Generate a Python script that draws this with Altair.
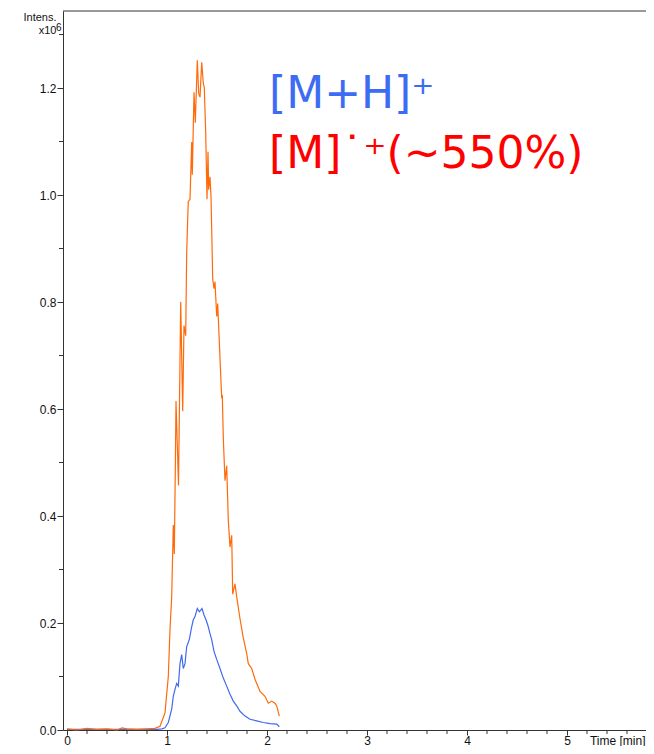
import altair as alt
import pandas as pd

# ---- data ----
orange_t = [0.00, 0.10, 0.20, 0.30, 0.40, 0.50, 0.55, 0.60, 0.70, 0.80, 0.88,
            0.93, 0.98, 1.013, 1.03, 1.047, 1.063, 1.073, 1.083, 1.09, 1.115,
            1.137, 1.157, 1.17, 1.187, 1.197, 1.207, 1.213, 1.23, 1.247, 1.253,
            1.27, 1.283, 1.303, 1.317, 1.33, 1.347, 1.363, 1.373, 1.387, 1.40,
            1.41, 1.417, 1.43, 1.44, 1.447, 1.457, 1.47, 1.48, 1.497, 1.507,
            1.53, 1.547, 1.553, 1.563, 1.58, 1.597, 1.613, 1.63, 1.647, 1.657,
            1.68, 1.697, 1.73, 1.76, 1.797, 1.813, 1.847, 1.88, 1.93, 1.98,
            2.013, 2.047, 2.08, 2.097, 2.123]
orange_v = [0.002, 0.000, 0.003, 0.001, 0.002, 0.000, 0.004, 0.002, 0.001, 0.002, 0.003,
            0.007, 0.032, 0.100, 0.188, 0.249, 0.383, 0.329, 0.485, 0.615, 0.457,
            0.800, 0.596, 0.756, 0.737, 0.893, 0.955, 0.988, 0.992, 1.099, 1.038,
            1.192, 1.135, 1.252, 1.190, 1.183, 1.248, 1.209, 1.201, 1.116, 0.992,
            1.081, 1.010, 1.034, 0.997, 0.936, 0.843, 0.825, 0.838, 0.773, 0.797,
            0.695, 0.620, 0.626, 0.546, 0.466, 0.494, 0.392, 0.342, 0.364, 0.254,
            0.273, 0.249, 0.208, 0.175, 0.143, 0.124, 0.115, 0.095, 0.072, 0.063,
            0.050, 0.054, 0.050, 0.045, 0.026]

blue_t = [0.00, 0.50, 0.90, 0.95, 0.98, 1.013, 1.047, 1.063, 1.08, 1.097, 1.113,
          1.13, 1.147, 1.163, 1.18, 1.197, 1.223, 1.247, 1.263, 1.28, 1.303,
          1.323, 1.35, 1.37, 1.39, 1.413, 1.43, 1.447, 1.47, 1.497, 1.53, 1.563,
          1.597, 1.63, 1.663, 1.697, 1.73, 1.78, 1.83, 1.897, 1.963, 2.03,
          2.097, 2.123]
blue_v = [0.001, 0.001, 0.001, 0.002, 0.004, 0.014, 0.039, 0.063, 0.076, 0.087, 0.082,
          0.124, 0.141, 0.115, 0.124, 0.156, 0.169, 0.193, 0.206, 0.212, 0.227,
          0.221, 0.227, 0.215, 0.206, 0.193, 0.180, 0.169, 0.147, 0.132, 0.115, 0.097,
          0.082, 0.067, 0.054, 0.045, 0.035, 0.026, 0.020, 0.017, 0.014, 0.012,
          0.011, 0.006]

y_major = [0.0, 0.2, 0.4, 0.6, 0.8, 1.0, 1.2]
y_minor = [0.1, 0.3, 0.5, 0.7, 0.9, 1.1, 1.3]
x_major = [0, 1, 2, 3, 4, 5]
x_minor = [0.2, 0.4, 0.6, 0.8, 1.2, 1.4, 1.6, 1.8, 2.2, 2.4, 2.6, 2.8,
           3.2, 3.4, 3.6, 3.8, 4.2, 4.4, 4.6, 4.8, 5.2, 5.4, 5.6]

W, H = 583, 719
X_DOM = [-0.04, 5.79]
Y_DOM = [0, 1.344]
AX = "Liberation Sans"

orange_df = pd.DataFrame({"t": orange_t, "v": orange_v})
blue_df = pd.DataFrame({"t": blue_t, "v": blue_v})

xs = alt.Scale(domain=X_DOM, nice=False, zero=False)
ys = alt.Scale(domain=Y_DOM, nice=False, zero=False)

x_axis = alt.Axis(values=x_major, format="d", tickSize=5, labelFontSize=12,
                  labelFont=AX, labelPadding=0, labelColor="#111", tickColor="#333",
                  domainColor="#333", grid=False, title="Time [min]",
                  titleFont=AX, titleFontSize=12, titleFontWeight="normal",
                  titleAlign="right", titleAnchor="start", titleX=W - 1, titleY=14,
                  titleBaseline="alphabetic", titleColor="#111")
y_axis = alt.Axis(values=y_major, format=".1f", tickSize=6, labelFontSize=12,
                  labelFont=AX, labelPadding=1, labelColor="#111", tickColor="#333",
                  domainColor="#333", grid=False, title=["Intens.", "x10"],
                  titleFont=AX, titleFontSize=11, titleFontWeight="normal",
                  titleAngle=0, titleAlign="right", titleX=-7, titleY=9,
                  titleBaseline="alphabetic", titleLineHeight=13, titleColor="#111")

blue_line = alt.Chart(blue_df).mark_line(color="#4169f0", strokeWidth=1.2).encode(
    x=alt.X("t:Q", scale=xs, axis=x_axis),
    y=alt.Y("v:Q", scale=ys, axis=y_axis),
)
orange_line = alt.Chart(orange_df).mark_line(color="#ff6a0a", strokeWidth=1.2).encode(
    x=alt.X("t:Q", scale=xs),
    y=alt.Y("v:Q", scale=ys),
)

ymin_df = pd.DataFrame({"v": y_minor})
y_minor_ticks = alt.Chart(ymin_df).mark_rule(color="#333", strokeWidth=1).encode(
    x=alt.value(-4), x2=alt.value(0), y=alt.Y("v:Q", scale=ys))
xmin_df = pd.DataFrame({"t": x_minor})
x_minor_ticks = alt.Chart(xmin_df).mark_rule(color="#333", strokeWidth=1).encode(
    x=alt.X("t:Q", scale=xs), y=alt.value(H), y2=alt.value(H + 4))

one = pd.DataFrame({"k": [0]})
top_border = alt.Chart(one).mark_rule(color="#333", strokeWidth=1).encode(
    x=alt.value(0), x2=alt.value(W), y=alt.value(0))

exp6 = alt.Chart(one).mark_text(text="6", color="#111", font=AX, fontSize=10,
                                align="left", baseline="alphabetic").encode(
    x=alt.value(-7), y=alt.value(20))

lab1 = alt.Chart(one).mark_text(text="[M+H]⁺", color="#3d6cf4", font="DejaVu Sans",
                                fontSize=44, align="left", baseline="alphabetic").encode(
    x=alt.value(206), y=alt.value(97))
lab2 = alt.Chart(one).mark_text(text="[M]˙⁺(~550%)", color="#ff0000", font="DejaVu Sans",
                                fontSize=44, align="left", baseline="alphabetic").encode(
    x=alt.value(206), y=alt.value(157))

chart = alt.layer(top_border, x_minor_ticks, y_minor_ticks, blue_line, orange_line,
                  exp6, lab1, lab2).properties(
    width=W, height=H,
    autosize=alt.AutoSizeParams(type="none"),
    padding={"left": 55, "top": 3, "right": 0, "bottom": 16},
).configure_view(stroke=None)

chart.save("out.html", embed_options={"renderer": "svg", "actions": False})
